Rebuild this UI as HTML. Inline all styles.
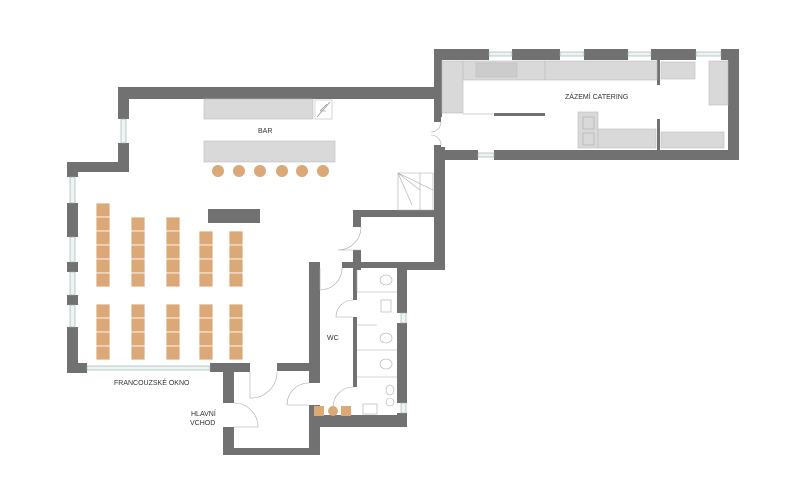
<!DOCTYPE html>
<html><head><meta charset="utf-8"><style>
html,body{margin:0;padding:0;background:#fff}
svg{display:block}
text{font-family:"Liberation Sans",sans-serif;font-size:7px;fill:#333}
</style></head><body>
<svg width="800" height="501" viewBox="0 0 800 501" xmlns="http://www.w3.org/2000/svg">
<g fill="#717171">
<!-- main hall -->
<rect x="118" y="87" width="322" height="12"/>
<rect x="118" y="87" width="11" height="32"/>
<rect x="118" y="143" width="11" height="29"/>
<rect x="67" y="162" width="62" height="10"/>
<rect x="67" y="162" width="11" height="15"/>
<rect x="67" y="203" width="11" height="34"/>
<rect x="67" y="262" width="11" height="10"/>
<rect x="67" y="295" width="11" height="10"/>
<rect x="67" y="327" width="11" height="46"/>
<rect x="67" y="363" width="20" height="10"/>
<rect x="210" y="363" width="40" height="9"/>
<rect x="277" y="363" width="38" height="8"/>
<rect x="434" y="87" width="7" height="35"/>
<rect x="434" y="145" width="7" height="125"/>
<rect x="353" y="210" width="88" height="7"/>
<rect x="353" y="210" width="8" height="17"/>
<rect x="353" y="250" width="8" height="20"/>
<rect x="400" y="262" width="41" height="8"/>
<!-- WC -->
<rect x="309" y="262" width="11" height="121"/>
<rect x="309" y="405" width="11" height="50"/>
<rect x="309" y="262" width="11" height="6"/>
<rect x="342" y="262" width="65" height="6"/>
<rect x="353" y="262" width="4" height="38"/>
<rect x="353" y="317" width="4" height="70"/>
<rect x="397" y="262" width="10" height="51"/>
<rect x="397" y="323" width="10" height="80"/>
<rect x="397" y="413" width="10" height="14"/>
<rect x="320" y="415" width="87" height="12"/>
<rect x="223" y="363" width="11" height="40"/>
<rect x="223" y="427" width="11" height="28"/>
<rect x="223" y="448" width="97" height="7"/>
<!-- catering -->
<rect x="434" y="49" width="55" height="11"/>
<rect x="512" y="49" width="48" height="11"/>
<rect x="584" y="49" width="44" height="11"/>
<rect x="651" y="49" width="45" height="11"/>
<rect x="721" y="49" width="18" height="11"/>
<rect x="434" y="49" width="8" height="68"/>
<rect x="728" y="49" width="11" height="111"/>
<rect x="434" y="150" width="44" height="10"/>
<rect x="494" y="150" width="245" height="10"/>
<rect x="434" y="147" width="11" height="123"/>
<rect x="494" y="113" width="51" height="3"/>
<rect x="657" y="60" width="3" height="25"/>
<rect x="657" y="119" width="3" height="31"/>
<rect x="208" y="209" width="52" height="14"/>
</g>
<!-- windows -->
<g fill="#eef3f3" stroke="#9aa" stroke-width="0.6">
<rect x="121" y="119" width="5" height="24"/>
<rect x="70" y="177" width="5" height="26"/>
<rect x="70" y="237" width="5" height="25"/>
<rect x="70" y="272" width="5" height="23"/>
<rect x="70" y="305" width="5" height="22"/>
<rect x="87" y="366" width="123" height="4"/>
<rect x="489" y="52" width="23" height="4"/>
<rect x="560" y="52" width="24" height="4"/>
<rect x="628" y="52" width="23" height="4"/>
<rect x="696" y="52" width="25" height="4"/>
<rect x="478" y="153" width="16" height="4"/>
<rect x="401" y="313" width="5" height="10"/>
<rect x="401" y="403" width="5" height="10"/>
</g>
<!-- counters -->
<g fill="#d9d9d9" stroke="#bdbdbd" stroke-width="0.6">
<rect x="204" y="99" width="109" height="20"/>
<rect x="315" y="100" width="17" height="19" fill="#fff"/>
<rect x="204" y="141" width="131" height="21"/>
<rect x="442" y="61" width="21" height="52"/>
<rect x="463" y="61" width="82" height="19"/>
<rect x="545" y="61" width="112" height="19"/>
<rect x="661" y="62" width="34" height="17"/>
<rect x="709" y="61" width="19" height="44"/>
<rect x="661" y="132" width="63" height="16"/>
<rect x="578" y="112" width="20" height="36"/>
<rect x="598" y="129" width="58" height="19"/>
<rect x="476" y="63" width="41" height="14" fill="#ccc"/>
</g>
<path d="M317 117 L330 102 M320 111 L326 111 M320 111 L327 104" stroke="#888" stroke-width="0.6" fill="none"/>
<line x1="463" y1="114" x2="493" y2="114" stroke="#ccc" stroke-width="1"/>
<!-- stools -->
<g fill="#dba878">
<circle cx="218" cy="171" r="6"/><circle cx="239" cy="171" r="6"/><circle cx="260" cy="171" r="6"/>
<circle cx="282" cy="171" r="6"/><circle cx="302" cy="171" r="6"/><circle cx="323" cy="171" r="6"/>
<rect x="314" y="406" width="10" height="10"/><circle cx="333" cy="411" r="5"/><rect x="341" y="406" width="10" height="10"/>
</g>
<!-- chairs -->
<g fill="#dba878" stroke="#fff" stroke-width="0.8">
<rect x="96" y="203" width="14" height="14"/><rect x="96" y="217" width="14" height="14"/><rect x="96" y="231" width="14" height="14"/><rect x="96" y="245" width="14" height="14"/><rect x="96" y="259" width="14" height="14"/><rect x="96" y="273" width="14" height="14"/>
<rect x="131" y="217" width="14" height="14"/><rect x="131" y="231" width="14" height="14"/><rect x="131" y="245" width="14" height="14"/><rect x="131" y="259" width="14" height="14"/><rect x="131" y="273" width="14" height="14"/>
<rect x="166" y="217" width="14" height="14"/><rect x="166" y="231" width="14" height="14"/><rect x="166" y="245" width="14" height="14"/><rect x="166" y="259" width="14" height="14"/><rect x="166" y="273" width="14" height="14"/>
<rect x="199" y="231" width="14" height="14"/><rect x="199" y="245" width="14" height="14"/><rect x="199" y="259" width="14" height="14"/><rect x="199" y="273" width="14" height="14"/>
<rect x="229" y="231" width="14" height="14"/><rect x="229" y="245" width="14" height="14"/><rect x="229" y="259" width="14" height="14"/><rect x="229" y="273" width="14" height="14"/>
<rect x="96" y="304" width="14" height="14"/><rect x="96" y="318" width="14" height="14"/><rect x="96" y="332" width="14" height="14"/><rect x="96" y="346" width="14" height="14"/>
<rect x="131" y="304" width="14" height="14"/><rect x="131" y="318" width="14" height="14"/><rect x="131" y="332" width="14" height="14"/><rect x="131" y="346" width="14" height="14"/>
<rect x="166" y="304" width="14" height="14"/><rect x="166" y="318" width="14" height="14"/><rect x="166" y="332" width="14" height="14"/><rect x="166" y="346" width="14" height="14"/>
<rect x="199" y="304" width="14" height="14"/><rect x="199" y="318" width="14" height="14"/><rect x="199" y="332" width="14" height="14"/><rect x="199" y="346" width="14" height="14"/>
<rect x="229" y="304" width="14" height="14"/><rect x="229" y="318" width="14" height="14"/><rect x="229" y="332" width="14" height="14"/><rect x="229" y="346" width="14" height="14"/>
</g>
<!-- doors, stairs, stalls -->
<g fill="none" stroke="#aaa" stroke-width="0.6">
<path d="M361 227 A23 23 0 0 1 338 250 L361 250"/>
<path d="M320 268 L320 290 A22 22 0 0 0 342 268"/>
<path d="M353 300 A17 17 0 0 0 336 317 L353 317"/>
<path d="M309 383 A22 22 0 0 0 287 405 L309 405"/>
<path d="M353 387 A20 20 0 0 0 333 407"/>
<path d="M250 372 L250 398 A26 26 0 0 0 277 372"/>
<path d="M234 403 A24 24 0 0 1 258 427 L234 427"/>
<path d="M441 122 A10 10 0 0 1 431 132 M441 145 A10 10 0 0 0 431 135"/>
<path d="M398 173 L433 173 L433 210 L398 210 Z M398 173 L412 205 M398 173 L433 190 M398 173 L420 190 M420 173 L420 210"/>
<path d="M357 292 L397 292 M357 350 L397 350 M357 377 L397 377 M357 270 L357 292 M357 325 L377 325"/>
<ellipse cx="386" cy="280" rx="6" ry="5"/><ellipse cx="386" cy="338" rx="6" ry="5"/><ellipse cx="386" cy="364" rx="6" ry="5"/><ellipse cx="390" cy="390" rx="4" ry="5"/><ellipse cx="390" cy="402" rx="4" ry="4"/>
<rect x="381" y="300" width="10" height="12"/><rect x="363" y="404" width="14" height="10"/>
<rect x="583" y="117" width="11" height="12"/><rect x="583" y="133" width="11" height="12"/>
</g>
<!-- labels -->
<text x="258" y="133">BAR</text>
<text x="565" y="99">ZÁZEMÍ CATERING</text>
<text x="327" y="340">WC</text>
<text x="114" y="385">FRANCOUZSKÉ OKNO</text>
<text x="191" y="416">HLAVNÍ</text>
<text x="190" y="425">VCHOD</text>
</svg>
</body></html>
